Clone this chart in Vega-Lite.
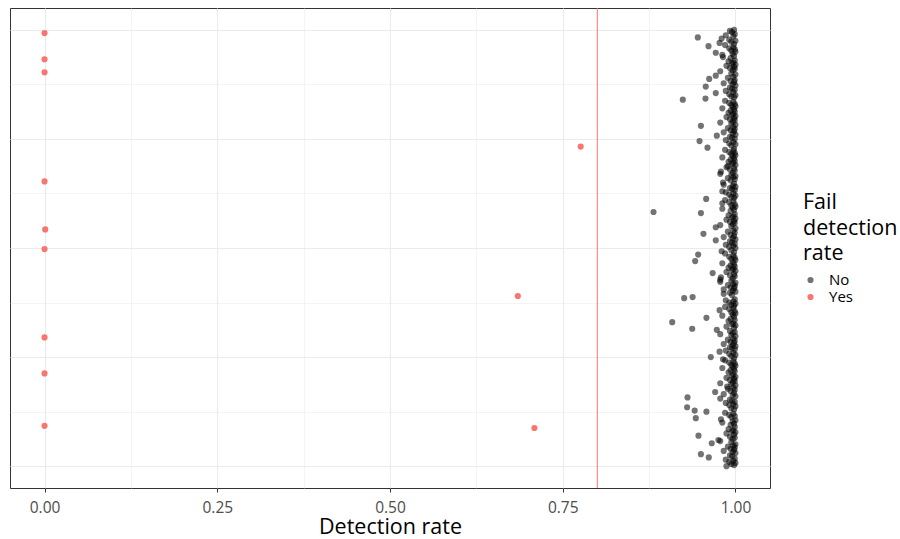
{
  "$schema": "https://vega.github.io/schema/vega-lite/v6.json",
  "width": 760,
  "height": 480,
  "autosize": {"type": "none"},
  "padding": {"left": 10, "top": 8, "right": 130, "bottom": 51},
  "background": "white",
  "config": {
    "font": "Open Sans",
    "view": {"stroke": "#333333", "strokeWidth": 1},
    "axis": {"gridColor": "#EBEBEB", "domain": false}
  },
  "datasets": {
    "rates": [
      {"i":0,"r":0.987,"f":"No"},{"i":1,"r":0.998,"f":"No"},{"i":2,"r":0.994,"f":"No"},{"i":3,"r":1,"f":"No"},{"i":4,"r":0.991,"f":"No"},
      {"i":5,"r":0.997,"f":"No"},{"i":6,"r":0.986,"f":"No"},{"i":7,"r":0.999,"f":"No"},{"i":8,"r":0.9614,"f":"No"},{"i":9,"r":0.995,"f":"No"},
      {"i":10,"r":0.992,"f":"No"},{"i":11,"r":0.95,"f":"No"},{"i":12,"r":1,"f":"No"},{"i":13,"r":0.996,"f":"No"},{"i":14,"r":0.983,"f":"No"},
      {"i":15,"r":0.998,"f":"No"},{"i":16,"r":0.993,"f":"No"},{"i":17,"r":0.999,"f":"No"},{"i":18,"r":0.989,"f":"No"},{"i":19,"r":0.997,"f":"No"},
      {"i":20,"r":1,"f":"No"},{"i":21,"r":0.9657,"f":"No"},{"i":22,"r":0.994,"f":"No"},{"i":23,"r":0.978,"f":"No"},{"i":24,"r":0.9754,"f":"No"},
      {"i":25,"r":0.996,"f":"No"},{"i":26,"r":0.999,"f":"No"},{"i":27,"r":0.992,"f":"No"},{"i":28,"r":0.9465,"f":"No"},{"i":29,"r":0.998,"f":"No"},
      {"i":30,"r":0.987,"f":"No"},{"i":31,"r":1,"f":"No"},{"i":32,"r":0.995,"f":"No"},{"i":33,"r":0.997,"f":"No"},{"i":34,"r":0.99,"f":"No"},
      {"i":35,"r":0.709,"f":"Yes"},{"i":36,"r":0.999,"f":"No"},{"i":37,"r":0,"f":"Yes"},{"i":38,"r":0.993,"f":"No"},{"i":39,"r":0.998,"f":"No"},
      {"i":40,"r":0.981,"f":"No"},{"i":41,"r":0.996,"f":"No"},{"i":42,"r":1,"f":"No"},{"i":43,"r":0.979,"f":"No"},{"i":44,"r":0.9426,"f":"No"},
      {"i":45,"r":0.994,"f":"No"},{"i":46,"r":0.999,"f":"No"},{"i":47,"r":0.991,"f":"No"},{"i":48,"r":0.997,"f":"No"},{"i":49,"r":0.985,"f":"No"},
      {"i":50,"r":0.958,"f":"No"},{"i":51,"r":0.941,"f":"No"},{"i":52,"r":0.998,"f":"No"},{"i":53,"r":0.994,"f":"No"},{"i":54,"r":0.93,"f":"No"},
      {"i":55,"r":1,"f":"No"},{"i":56,"r":0.991,"f":"No"},{"i":57,"r":0.997,"f":"No"},{"i":58,"r":0.986,"f":"No"},{"i":59,"r":0.999,"f":"No"},
      {"i":60,"r":0.995,"f":"No"},{"i":61,"r":0.992,"f":"No"},{"i":62,"r":0.978,"f":"No"},{"i":63,"r":0.9306,"f":"No"},{"i":64,"r":1,"f":"No"},
      {"i":65,"r":0.996,"f":"No"},{"i":66,"r":0.983,"f":"No"},{"i":67,"r":0.998,"f":"No"},{"i":68,"r":0.9706,"f":"No"},{"i":69,"r":0.993,"f":"No"},
      {"i":70,"r":0.999,"f":"No"},{"i":71,"r":0.989,"f":"No"},{"i":72,"r":0.997,"f":"No"},{"i":73,"r":0.988,"f":"No"},{"i":74,"r":1,"f":"No"},
      {"i":75,"r":0.994,"f":"No"},{"i":76,"r":0.978,"f":"No"},{"i":77,"r":0.996,"f":"No"},{"i":78,"r":0.999,"f":"No"},{"i":79,"r":0.992,"f":"No"},
      {"i":80,"r":0.998,"f":"No"},{"i":81,"r":0.987,"f":"No"},{"i":82,"r":1,"f":"No"},{"i":83,"r":0.995,"f":"No"},{"i":84,"r":0.997,"f":"No"},
      {"i":85,"r":0,"f":"Yes"},{"i":86,"r":0.99,"f":"No"},{"i":87,"r":0.999,"f":"No"},{"i":88,"r":0.993,"f":"No"},{"i":89,"r":0.998,"f":"No"},
      {"i":90,"r":0.981,"f":"No"},{"i":91,"r":0.996,"f":"No"},{"i":92,"r":1,"f":"No"},{"i":93,"r":0.994,"f":"No"},{"i":94,"r":0.999,"f":"No"},
      {"i":95,"r":0.991,"f":"No"},{"i":96,"r":0.997,"f":"No"},{"i":97,"r":0.985,"f":"No"},{"i":98,"r":0.982,"f":"No"},{"i":99,"r":0.998,"f":"No"},
      {"i":100,"r":0.9643,"f":"No"},{"i":101,"r":0.994,"f":"No"},{"i":102,"r":1,"f":"No"},{"i":103,"r":0.991,"f":"No"},{"i":104,"r":0.997,"f":"No"},
      {"i":105,"r":0.977,"f":"No"},{"i":106,"r":0.986,"f":"No"},{"i":107,"r":0.999,"f":"No"},{"i":108,"r":0.995,"f":"No"},{"i":109,"r":0.992,"f":"No"},
      {"i":110,"r":1,"f":"No"},{"i":111,"r":0.996,"f":"No"},{"i":112,"r":0.983,"f":"No"},{"i":113,"r":0.998,"f":"No"},{"i":114,"r":0.993,"f":"No"},
      {"i":115,"r":0.999,"f":"No"},{"i":116,"r":0.989,"f":"No"},{"i":117,"r":0.997,"f":"No"},{"i":118,"r":0,"f":"Yes"},{"i":119,"r":1,"f":"No"},
      {"i":120,"r":0.994,"f":"No"},{"i":121,"r":0.978,"f":"No"},{"i":122,"r":0.996,"f":"No"},{"i":123,"r":0.999,"f":"No"},{"i":124,"r":0.992,"f":"No"},
      {"i":125,"r":0.973,"f":"No"},{"i":126,"r":0.9374,"f":"No"},{"i":127,"r":0.998,"f":"No"},{"i":128,"r":0.987,"f":"No"},{"i":129,"r":1,"f":"No"},
      {"i":130,"r":0.995,"f":"No"},{"i":131,"r":0.997,"f":"No"},{"i":132,"r":0.9085,"f":"No"},{"i":133,"r":0.99,"f":"No"},{"i":134,"r":0.999,"f":"No"},
      {"i":135,"r":0.993,"f":"No"},{"i":136,"r":0.958,"f":"No"},{"i":137,"r":0.998,"f":"No"},{"i":138,"r":0.981,"f":"No"},{"i":139,"r":0.996,"f":"No"},
      {"i":140,"r":1,"f":"No"},{"i":141,"r":0.994,"f":"No"},{"i":142,"r":0.999,"f":"No"},{"i":143,"r":0.977,"f":"No"},{"i":144,"r":0.991,"f":"No"},
      {"i":145,"r":0.997,"f":"No"},{"i":146,"r":0.985,"f":"No"},{"i":147,"r":0.998,"f":"No"},{"i":148,"r":0.994,"f":"No"},{"i":149,"r":1,"f":"No"},
      {"i":150,"r":0.991,"f":"No"},{"i":151,"r":0.997,"f":"No"},{"i":152,"r":0.986,"f":"No"},{"i":153,"r":0.999,"f":"No"},{"i":154,"r":0.9258,"f":"No"},
      {"i":155,"r":0.938,"f":"No"},{"i":156,"r":0.685,"f":"Yes"},{"i":157,"r":0.995,"f":"No"},{"i":158,"r":0.983,"f":"No"},{"i":159,"r":0.992,"f":"No"},
      {"i":160,"r":1,"f":"No"},{"i":161,"r":0.996,"f":"No"},{"i":162,"r":0.983,"f":"No"},{"i":163,"r":0.998,"f":"No"},{"i":164,"r":0.993,"f":"No"},
      {"i":165,"r":0.999,"f":"No"},{"i":166,"r":0.989,"f":"No"},{"i":167,"r":0.997,"f":"No"},{"i":168,"r":1,"f":"No"},{"i":169,"r":0.978,"f":"No"},
      {"i":170,"r":0.994,"f":"No"},{"i":171,"r":0.978,"f":"No"},{"i":172,"r":0.996,"f":"No"},{"i":173,"r":0.979,"f":"No"},{"i":174,"r":0.999,"f":"No"},
      {"i":175,"r":0.992,"f":"No"},{"i":176,"r":0.998,"f":"No"},{"i":177,"r":0.967,"f":"No"},{"i":178,"r":0.987,"f":"No"},{"i":179,"r":1,"f":"No"},
      {"i":180,"r":0.995,"f":"No"},{"i":181,"r":0.997,"f":"No"},{"i":182,"r":0.99,"f":"No"},{"i":183,"r":0.999,"f":"No"},{"i":184,"r":0.993,"f":"No"},
      {"i":185,"r":0.998,"f":"No"},{"i":186,"r":0.981,"f":"No"},{"i":187,"r":0.996,"f":"No"},{"i":188,"r":0.9417,"f":"No"},{"i":189,"r":1,"f":"No"},
      {"i":190,"r":0.994,"f":"No"},{"i":191,"r":0.999,"f":"No"},{"i":192,"r":0.991,"f":"No"},{"i":193,"r":0.997,"f":"No"},{"i":194,"r":0.946,"f":"No"},
      {"i":195,"r":0.985,"f":"No"},{"i":196,"r":0.998,"f":"No"},{"i":197,"r":0.98,"f":"No"},{"i":198,"r":0.994,"f":"No"},{"i":199,"r":0,"f":"Yes"},
      {"i":200,"r":1,"f":"No"},{"i":201,"r":0.991,"f":"No"},{"i":202,"r":0.997,"f":"No"},{"i":203,"r":0.986,"f":"No"},{"i":204,"r":0.999,"f":"No"},
      {"i":205,"r":0.995,"f":"No"},{"i":206,"r":0.992,"f":"No"},{"i":207,"r":0.9715,"f":"No"},{"i":208,"r":1,"f":"No"},{"i":209,"r":0.996,"f":"No"},
      {"i":210,"r":0.983,"f":"No"},{"i":211,"r":0.998,"f":"No"},{"i":212,"r":0.993,"f":"No"},{"i":213,"r":0.9537,"f":"No"},{"i":214,"r":0.999,"f":"No"},
      {"i":215,"r":0.989,"f":"No"},{"i":216,"r":0.997,"f":"No"},{"i":217,"r":0.001,"f":"Yes"},{"i":218,"r":1,"f":"No"},{"i":219,"r":0.9715,"f":"No"},
      {"i":220,"r":0.994,"f":"No"},{"i":221,"r":0.978,"f":"No"},{"i":222,"r":0.996,"f":"No"},{"i":223,"r":0.999,"f":"No"},{"i":224,"r":0.992,"f":"No"},
      {"i":225,"r":0.998,"f":"No"},{"i":226,"r":0.987,"f":"No"},{"i":227,"r":1,"f":"No"},{"i":228,"r":0.995,"f":"No"},{"i":229,"r":0.997,"f":"No"},
      {"i":230,"r":0.99,"f":"No"},{"i":231,"r":0.999,"f":"No"},{"i":232,"r":0.95,"f":"No"},{"i":233,"r":0.8814,"f":"No"},{"i":234,"r":0.993,"f":"No"},
      {"i":235,"r":0.998,"f":"No"},{"i":236,"r":0.981,"f":"No"},{"i":237,"r":0.996,"f":"No"},{"i":238,"r":1,"f":"No"},{"i":239,"r":0.994,"f":"No"},
      {"i":240,"r":0.999,"f":"No"},{"i":241,"r":0.981,"f":"No"},{"i":242,"r":0.991,"f":"No"},{"i":243,"r":0.997,"f":"No"},{"i":244,"r":0.985,"f":"No"},
      {"i":245,"r":0.9576,"f":"No"},{"i":246,"r":0.998,"f":"No"},{"i":247,"r":0.994,"f":"No"},{"i":248,"r":1,"f":"No"},{"i":249,"r":0.991,"f":"No"},
      {"i":250,"r":0.997,"f":"No"},{"i":251,"r":0.986,"f":"No"},{"i":252,"r":0.981,"f":"No"},{"i":253,"r":0.999,"f":"No"},{"i":254,"r":0.995,"f":"No"},
      {"i":255,"r":0.992,"f":"No"},{"i":256,"r":1,"f":"No"},{"i":257,"r":0.996,"f":"No"},{"i":258,"r":0.983,"f":"No"},{"i":259,"r":0.998,"f":"No"},
      {"i":260,"r":0.982,"f":"No"},{"i":261,"r":0,"f":"Yes"},{"i":262,"r":0.993,"f":"No"},{"i":263,"r":0.999,"f":"No"},{"i":264,"r":0.989,"f":"No"},
      {"i":265,"r":0.997,"f":"No"},{"i":266,"r":1,"f":"No"},{"i":267,"r":0.994,"f":"No"},{"i":268,"r":0.978,"f":"No"},{"i":269,"r":0.996,"f":"No"},
      {"i":270,"r":0.979,"f":"No"},{"i":271,"r":0.999,"f":"No"},{"i":272,"r":0.992,"f":"No"},{"i":273,"r":0.998,"f":"No"},{"i":274,"r":0.987,"f":"No"},
      {"i":275,"r":0.989,"f":"No"},{"i":276,"r":1,"f":"No"},{"i":277,"r":0.995,"f":"No"},{"i":278,"r":0.997,"f":"No"},{"i":279,"r":0.99,"f":"No"},
      {"i":280,"r":0.999,"f":"No"},{"i":281,"r":0.993,"f":"No"},{"i":282,"r":0.998,"f":"No"},{"i":283,"r":0.981,"f":"No"},{"i":284,"r":0.996,"f":"No"},
      {"i":285,"r":1,"f":"No"},{"i":286,"r":0.994,"f":"No"},{"i":287,"r":0.999,"f":"No"},{"i":288,"r":0.991,"f":"No"},{"i":289,"r":0.997,"f":"No"},
      {"i":290,"r":0.985,"f":"No"},{"i":291,"r":0.998,"f":"No"},{"i":292,"r":0.9595,"f":"No"},{"i":293,"r":0.776,"f":"Yes"},{"i":294,"r":0.994,"f":"No"},
      {"i":295,"r":1,"f":"No"},{"i":296,"r":0.991,"f":"No"},{"i":297,"r":0.997,"f":"No"},{"i":298,"r":0.948,"f":"No"},{"i":299,"r":0.986,"f":"No"},
      {"i":300,"r":0.999,"f":"No"},{"i":301,"r":0.995,"f":"No"},{"i":302,"r":0.992,"f":"No"},{"i":303,"r":0.973,"f":"No"},{"i":304,"r":1,"f":"No"},
      {"i":305,"r":0.996,"f":"No"},{"i":306,"r":0.983,"f":"No"},{"i":307,"r":0.998,"f":"No"},{"i":308,"r":0.993,"f":"No"},{"i":309,"r":0.999,"f":"No"},
      {"i":310,"r":0.989,"f":"No"},{"i":311,"r":0.997,"f":"No"},{"i":312,"r":0.95,"f":"No"},{"i":313,"r":1,"f":"No"},{"i":314,"r":0.994,"f":"No"},
      {"i":315,"r":0.978,"f":"No"},{"i":316,"r":0.996,"f":"No"},{"i":317,"r":0.999,"f":"No"},{"i":318,"r":0.992,"f":"No"},{"i":319,"r":0.998,"f":"No"},
      {"i":320,"r":0.987,"f":"No"},{"i":321,"r":1,"f":"No"},{"i":322,"r":0.995,"f":"No"},{"i":323,"r":0.997,"f":"No"},{"i":324,"r":0.99,"f":"No"},
      {"i":325,"r":0.999,"f":"No"},{"i":326,"r":0.993,"f":"No"},{"i":327,"r":0.998,"f":"No"},{"i":328,"r":0.981,"f":"No"},{"i":329,"r":0.996,"f":"No"},
      {"i":330,"r":1,"f":"No"},{"i":331,"r":0.994,"f":"No"},{"i":332,"r":0.999,"f":"No"},{"i":333,"r":0.991,"f":"No"},{"i":334,"r":0.997,"f":"No"},
      {"i":335,"r":0.985,"f":"No"},{"i":336,"r":0.9238,"f":"No"},{"i":337,"r":0.9566,"f":"No"},{"i":338,"r":0.998,"f":"No"},{"i":339,"r":0.994,"f":"No"},
      {"i":340,"r":1,"f":"No"},{"i":341,"r":0.991,"f":"No"},{"i":342,"r":0.9715,"f":"No"},{"i":343,"r":0.997,"f":"No"},{"i":344,"r":0.986,"f":"No"},
      {"i":345,"r":0.999,"f":"No"},{"i":346,"r":0.995,"f":"No"},{"i":347,"r":0.992,"f":"No"},{"i":348,"r":0.957,"f":"No"},{"i":349,"r":1,"f":"No"},
      {"i":350,"r":0.996,"f":"No"},{"i":351,"r":0.983,"f":"No"},{"i":352,"r":0.998,"f":"No"},{"i":353,"r":0.993,"f":"No"},{"i":354,"r":0.999,"f":"No"},
      {"i":355,"r":0.962,"f":"No"},{"i":356,"r":0.989,"f":"No"},{"i":357,"r":0.997,"f":"No"},{"i":358,"r":0.9715,"f":"No"},{"i":359,"r":1,"f":"No"},
      {"i":360,"r":0.994,"f":"No"},{"i":361,"r":0,"f":"Yes"},{"i":362,"r":0.978,"f":"No"},{"i":363,"r":0.996,"f":"No"},{"i":364,"r":0.999,"f":"No"},
      {"i":365,"r":0.992,"f":"No"},{"i":366,"r":0.998,"f":"No"},{"i":367,"r":0.987,"f":"No"},{"i":368,"r":1,"f":"No"},{"i":369,"r":0.995,"f":"No"},
      {"i":370,"r":0.997,"f":"No"},{"i":371,"r":0.99,"f":"No"},{"i":372,"r":0.999,"f":"No"},{"i":373,"r":0,"f":"Yes"},{"i":374,"r":0.993,"f":"No"},
      {"i":375,"r":0.982,"f":"No"},{"i":376,"r":0.998,"f":"No"},{"i":377,"r":0.981,"f":"No"},{"i":378,"r":0.996,"f":"No"},{"i":379,"r":0.9715,"f":"No"},
      {"i":380,"r":1,"f":"No"},{"i":381,"r":0.994,"f":"No"},{"i":382,"r":0.999,"f":"No"},{"i":383,"r":0.991,"f":"No"},{"i":384,"r":0.997,"f":"No"},
      {"i":385,"r":0.961,"f":"No"},{"i":386,"r":0.985,"f":"No"},{"i":387,"r":0.998,"f":"No"},{"i":388,"r":0.977,"f":"No"},{"i":389,"r":0.994,"f":"No"},
      {"i":390,"r":1,"f":"No"},{"i":391,"r":0.991,"f":"No"},{"i":392,"r":0.98,"f":"No"},{"i":393,"r":0.9455,"f":"No"},{"i":394,"r":0.997,"f":"No"},
      {"i":395,"r":0.986,"f":"No"},{"i":396,"r":0.999,"f":"No"},{"i":397,"r":0,"f":"Yes"},{"i":398,"r":0.995,"f":"No"},{"i":399,"r":0.992,"f":"No"},
      {"i":400,"r":0.998,"f":"No"}
    ],
    "threshold": [{"cut": 0.8}]
  },
  "layer": [
    {
      "data": {"name": "threshold"},
      "mark": {"type": "rule", "color": "#F8766D", "strokeWidth": 1},
      "encoding": {
        "x": {"field": "cut", "type": "quantitative"}
      }
    },
    {
      "data": {"name": "rates"},
      "mark": {"type": "circle", "size": 38, "strokeWidth": 0},
      "encoding": {
        "x": {
          "field": "r",
          "type": "quantitative",
          "scale": {"domain": [-0.05, 1.05], "nice": false, "zero": false},
          "axis": {
            "title": "Detection rate",
            "values": [0, 0.125, 0.25, 0.375, 0.5, 0.625, 0.75, 0.875, 1],
            "labelExpr": "(datum.value * 4) % 1 == 0 ? format(datum.value, '.2f') : ''",
            "gridWidth": {"condition": {"test": "(datum.value * 4) % 1 == 0", "value": 1.1}, "value": 0.55},
            "tickOpacity": {"condition": {"test": "(datum.value * 4) % 1 == 0", "value": 1}, "value": 0},
            "tickColor": "#333333",
            "tickSize": 4,
            "labelFontSize": 15.5,
            "labelColor": "#4D4D4D",
            "labelPadding": 8,
            "labelOverlap": false,
            "titleFontSize": 21.5,
            "titleFontWeight": "normal",
            "titleColor": "#000000",
            "titlePadding": 1
          }
        },
        "y": {
          "field": "i",
          "type": "quantitative",
          "scale": {"domain": [-20, 420], "nice": false, "zero": false},
          "axis": {
            "title": null,
            "values": [0, 50, 100, 150, 200, 250, 300, 350, 400],
            "labels": false,
            "ticks": false,
            "gridWidth": {"condition": {"test": "datum.value % 100 == 0", "value": 1.1}, "value": 0.55}
          }
        },
        "color": {
          "field": "f",
          "type": "nominal",
          "scale": {"domain": ["No", "Yes"], "range": ["#000000", "#F8766D"]},
          "legend": {
            "title": ["Fail", "detection", "rate"],
            "orient": "none",
            "legendX": 793,
            "legendY": 184,
            "titleFontSize": 21.5,
            "titleFontWeight": "normal",
            "titleColor": "#000000",
            "titleLineHeight": 25.5,
            "titlePadding": 8,
            "labelFontSize": 15,
            "labelColor": "#000000",
            "symbolType": "circle",
            "symbolSize": 38,
            "symbolStrokeWidth": 0,
            "rowPadding": 1,
            "labelOffset": 11
          }
        },
        "opacity": {
          "field": "f",
          "type": "nominal",
          "scale": {"domain": ["No", "Yes"], "range": [0.55, 1]}
        }
      }
    }
  ]
}
